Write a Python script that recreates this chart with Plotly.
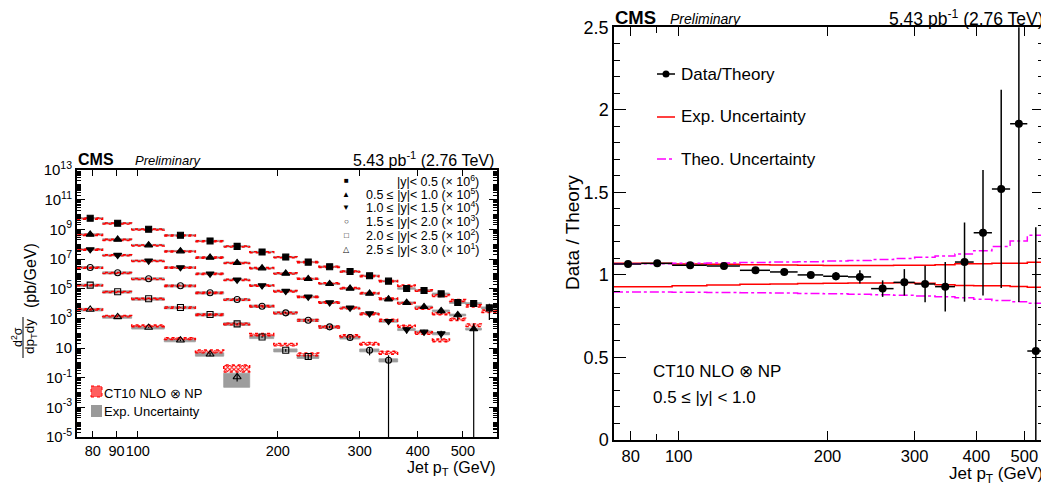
import numpy as np
import plotly.graph_objects as go

W, H = 1049, 487
OX, OY = 8, 8          # page body margin offset of the plot div
FONT = "Liberation Sans, Arial, Helvetica, sans-serif"


def px(x):
    return (x - OX) / W


def py(y):
    return 1 - (y - OY) / H


# ---------------- data ----------------
bin_edges = [74, 84, 97, 114, 133, 153, 174, 196, 220, 245, 272, 300, 330,
             362, 395, 430, 468, 507, 548, 592]

series_labels = [
    "|y|< 0.5 (× 10<sup>6</sup>)",
    "0.5 ≤ |y|< 1.0 (× 10<sup>5</sup>)",
    "1.0 ≤ |y|< 1.5 (× 10<sup>4</sup>)",
    "1.5 ≤ |y|< 2.0 (× 10<sup>3</sup>)",
    "2.0 ≤ |y|< 2.5 (× 10<sup>2</sup>)",
    "2.5 ≤ |y|< 3.0 (× 10<sup>1</sup>)",
]
scale_factors = [1e6, 1e5, 1e4, 1e3, 1e2, 1e1]

# measured cross sections (pb/GeV), unscaled
data_y0 = [5600, 2600, 1020, 400, 165, 71.5, 29.8, 13.5, 6.2, 3.0, 1.45, 0.737,
           0.322, 0.103, 0.0754, 0.0449, 0.0117, 0.0100, 0.0051]
data_y1 = [4540, 2090, 866, 341, 127, 55.6, 24.3, 10.6, 4.62, 2.13, 1.03, 0.473,
           0.196, 0.113, 0.060, 0.032, 0.0169, 0.0019]
data_y2 = [4420, 1830, 759, 269, 101, 39.6, 16.4, 6.80, 2.82, 1.17, 0.51, 0.211,
           0.0642, 0.0176, 0.0122, 0.0094]
data_y3 = [2690, 1170, 462, 156, 52.5, 18.6, 6.6, 2.34, 0.75, 0.266, 0.0507,
           0.00708, 0.0015]
data_y4 = [1730, 613, 207, 53.7, 18.1, 4.24, 0.55, 0.0708, 0.0265]
data_y5 = [394, 126, 24.0, 3.35, 0.38, 0.0112]

# relative statistical errors of the data
stat_y0 = [0.01, 0.01, 0.01, 0.01, 0.01, 0.01, 0.01, 0.015, 0.02, 0.02, 0.03,
           0.04, 0.05, 0.08, 0.10, 0.15, 0.30, 0.30, 0.85]
stat_y1 = [0.01, 0.01, 0.01, 0.01, 0.012, 0.015, 0.018, 0.025, 0.04, 0.055,
           0.084, 0.116, 0.16, 0.22, 0.30, 0.39, 0.56, 1.39]
stat_y2 = [0.01, 0.01, 0.01, 0.01, 0.015, 0.02, 0.03, 0.04, 0.06, 0.08, 0.12,
           0.18, 0.30, 0.45, 0.40, 0.55]
stat_y3 = [0.01, 0.01, 0.015, 0.02, 0.03, 0.04, 0.06, 0.08, 0.12, 0.18, 0.25,
           0.55, 1.2]
stat_y4 = [0.01, 0.015, 0.02, 0.03, 0.05, 0.08, 0.12, 0.20, 0.40]
stat_y5 = [0.02, 0.04, 0.06, 0.12, 0.25, 0.5]

# relative experimental uncertainty (grey band)
exp_y0 = [0.10, 0.10, 0.10, 0.10, 0.10, 0.10, 0.10, 0.10, 0.10, 0.11, 0.11,
          0.12, 0.12, 0.12, 0.13, 0.13, 0.14, 0.14, 0.15]
exp_y1 = [0.11, 0.11, 0.11, 0.11, 0.11, 0.11, 0.11, 0.11, 0.11, 0.11, 0.12,
          0.12, 0.12, 0.13, 0.13, 0.14, 0.14, 0.15]
exp_y2 = [0.12, 0.12, 0.12, 0.12, 0.12, 0.12, 0.12, 0.13, 0.13, 0.13, 0.14,
          0.14, 0.15, 0.15, 0.16, 0.17]
exp_y3 = [0.16, 0.16, 0.16, 0.16, 0.17, 0.17, 0.18, 0.18, 0.19, 0.20, 0.21,
          0.22, 0.24]
exp_y4 = [0.18, 0.18, 0.19, 0.19, 0.20, 0.21, 0.22, 0.23, 0.25]
exp_y5 = [0.20, 0.20, 0.21, 0.22, 0.26, 0.80]

# CT10 NLO x NP theory (pb/GeV), unscaled
theo_y0 = [5300, 2450, 965, 380, 158, 69.5, 28.8, 13.3, 6.15, 2.99, 1.445,
           0.700, 0.322, 0.156, 0.0754, 0.0347, 0.0159, 0.00696, 0.00304]
theo_y1 = [4260, 1950, 819, 324, 124, 54.6, 24.3, 10.7, 4.68, 2.32, 1.08, 0.50,
           0.211, 0.105, 0.048, 0.021, 0.0088, 0.0035]
theo_y2 = [4300, 1780, 740, 262, 99, 38.8, 16.1, 6.7, 2.78, 1.16, 0.50, 0.205,
           0.075, 0.0295, 0.0105, 0.00335]
theo_y3 = [2600, 1140, 450, 154, 52, 18.4, 6.5, 2.3, 0.75, 0.262, 0.0657, 0.020,
           0.0049]
theo_y4 = [1700, 600, 205, 53, 17.5, 4.2, 0.81, 0.171, 0.038]
theo_y5 = [400, 140, 31.1, 4.34, 0.606, 0.0479]

# relative theory uncertainty (red hatched band)
thu_y0 = [0.09, 0.09, 0.09, 0.09, 0.09, 0.09, 0.09, 0.09, 0.10, 0.10, 0.10,
          0.11, 0.11, 0.12, 0.13, 0.14, 0.16, 0.18, 0.20]
thu_y1 = [0.09, 0.09, 0.09, 0.09, 0.09, 0.09, 0.09, 0.10, 0.10, 0.10, 0.11,
          0.11, 0.12, 0.13, 0.14, 0.16, 0.18, 0.21]
thu_y2 = [0.09, 0.09, 0.09, 0.09, 0.10, 0.10, 0.10, 0.11, 0.11, 0.12, 0.13,
          0.14, 0.15, 0.17, 0.19, 0.21]
thu_y3 = [0.09, 0.09, 0.09, 0.10, 0.10, 0.11, 0.12, 0.13, 0.14, 0.16, 0.18,
          0.20, 0.23]
thu_y4 = [0.09, 0.09, 0.10, 0.11, 0.12, 0.14, 0.17, 0.19, 0.22]
thu_y5 = [0.10, 0.11, 0.13, 0.16, 0.22, 0.50]

all_data = [data_y0, data_y1, data_y2, data_y3, data_y4, data_y5]
all_stat = [stat_y0, stat_y1, stat_y2, stat_y3, stat_y4, stat_y5]
all_exp = [exp_y0, exp_y1, exp_y2, exp_y3, exp_y4, exp_y5]
all_theo = [theo_y0, theo_y1, theo_y2, theo_y3, theo_y4, theo_y5]
all_thu = [thu_y0, thu_y1, thu_y2, thu_y3, thu_y4, thu_y5]

marker_symbols = ["square", "triangle-up", "triangle-down", "circle-open",
                  "square-open", "triangle-up-open"]
marker_sizes = [6, 7, 7, 6, 6, 7]
legend_glyphs = ["■", "▲", "▼", "○", "□", "△"]

# ratio panel: 0.5 <= |y| < 1.0
ratio = [1.066, 1.070, 1.058, 1.054, 1.028, 1.018, 1.000, 0.992, 0.988, 0.917,
         0.955, 0.945, 0.929, 1.078, 1.256, 1.521, 1.916, 0.539]
ratio_err = [0.010, 0.010, 0.010, 0.010, 0.012, 0.015, 0.018, 0.025, 0.04, 0.05,
             0.08, 0.11, 0.15, 0.24, 0.38, 0.60, 1.08, 0.75]
exp_up = [1.071, 1.071, 1.066, 1.064, 1.062, 1.060, 1.058, 1.057, 1.057, 1.057,
          1.058, 1.059, 1.062, 1.068, 1.068, 1.070, 1.071, 1.076]
exp_dn = [0.929, 0.929, 0.935, 0.939, 0.943, 0.945, 0.948, 0.950, 0.951, 0.951,
          0.952, 0.950, 0.940, 0.936, 0.935, 0.934, 0.930, 0.926]
theo_up = [1.067, 1.068, 1.070, 1.072, 1.075, 1.078, 1.080, 1.084, 1.088, 1.094,
           1.100, 1.107, 1.115, 1.127, 1.147, 1.172, 1.205, 1.240]
theo_dn = [0.897, 0.896, 0.895, 0.894, 0.892, 0.890, 0.888, 0.886, 0.883, 0.880,
           0.877, 0.873, 0.868, 0.862, 0.852, 0.845, 0.838, 0.828]

# ---------------- figure ----------------
fig = go.Figure()

lo_edges = bin_edges[:-1]
hi_edges = bin_edges[1:]
centers = [(a + b) / 2 for a, b in zip(lo_edges, hi_edges)]


def band(values, rel, scale):
    xs, ys = [], []
    for i in range(len(values)):
        a, b = lo_edges[i], hi_edges[i]
        v = values[i] * scale
        lo = v * max(1 - rel[i], 0.02)
        hi = v * (1 + rel[i])
        xs += [a, b, b, a, a, None]
        ys += [lo, lo, hi, hi, lo, None]
    return xs, ys


# grey experimental bands
for k in range(6):
    xs, ys = band(all_data[k], all_exp[k], scale_factors[k])
    fig.add_trace(go.Scatter(x=xs, y=ys, mode="lines", fill="toself",
                             fillcolor="#9d9d9d",
                             line=dict(color="#9d9d9d", width=0.8),
                             hoverinfo="skip", showlegend=False,
                             xaxis="x", yaxis="y"))

# red hatched theory bands
for k in range(6):
    xs, ys = band(all_theo[k], all_thu[k], scale_factors[k])
    fig.add_trace(go.Scatter(x=xs, y=ys, mode="lines", fill="toself",
                             fillcolor="rgba(255,0,0,0.4)",
                             fillpattern=dict(shape="x", fgcolor="red",
                                              bgcolor="rgba(255,255,255,0.15)",
                                              size=3, solidity=0.55),
                             line=dict(color="red", width=1.4, dash="dot"),
                             hoverinfo="skip", showlegend=False,
                             xaxis="x", yaxis="y"))

# data points
for k in range(6):
    n = len(all_data[k])
    yv = [d * scale_factors[k] for d in all_data[k]]
    ev = [d * s for d, s in zip(yv, all_stat[k])]
    fig.add_trace(go.Scatter(
        x=centers[:n], y=yv, mode="markers",
        marker=dict(symbol=marker_symbols[k], size=marker_sizes[k],
                    color="black", line=dict(color="black", width=1.1)),
        error_y=dict(type="data", array=ev, color="black", thickness=1.2,
                     width=0),
        name=series_labels[k], showlegend=False, xaxis="x", yaxis="y"))

# ratio panel
nr = len(ratio)
r_edges = bin_edges[:nr + 1]
fig.add_trace(go.Scatter(x=r_edges, y=exp_up + [exp_up[-1]], mode="lines",
                         line=dict(color="red", width=1.5, shape="hv"),
                         showlegend=False, xaxis="x2", yaxis="y2"))
fig.add_trace(go.Scatter(x=r_edges, y=exp_dn + [exp_dn[-1]], mode="lines",
                         line=dict(color="red", width=1.5, shape="hv"),
                         showlegend=False, xaxis="x2", yaxis="y2"))
fig.add_trace(go.Scatter(x=r_edges, y=theo_up + [theo_up[-1]], mode="lines",
                         line=dict(color="#ff00ff", width=1.5, shape="hv",
                                   dash="dashdot"),
                         showlegend=False, xaxis="x2", yaxis="y2"))
fig.add_trace(go.Scatter(x=r_edges, y=theo_dn + [theo_dn[-1]], mode="lines",
                         line=dict(color="#ff00ff", width=1.5, shape="hv",
                                   dash="dashdot"),
                         showlegend=False, xaxis="x2", yaxis="y2"))
rc = centers[:nr]
fig.add_trace(go.Scatter(
    x=rc, y=ratio, mode="markers",
    marker=dict(symbol="circle", size=8, color="black"),
    error_y=dict(type="data", array=ratio_err, color="black", thickness=1.5,
                 width=0),
    error_x=dict(type="data", symmetric=False,
                 array=[b - c for b, c in zip(hi_edges[:nr], rc)],
                 arrayminus=[c - a for a, c in zip(lo_edges[:nr], rc)],
                 color="black", thickness=1.5, width=0),
    name="Data/Theory", showlegend=False, xaxis="x2", yaxis="y2"))

# ---------------- axes ----------------
label_exps = [-5, -3, -1, 1, 3, 5, 7, 9, 11, 13]
ytick_vals = [10.0 ** e for e in label_exps]
ytick_text = ["10" if e == 1 else "10<sup>%d</sup>" % e for e in label_exps]
yminor_vals = [m * 10.0 ** e for e in range(-5, 13) for m in range(1, 10)
               if not (m == 1 and e in label_exps)]

xt_left = [80, 90, 100, 200, 300, 400, 500]
xt_left_text = ["80", "90", "100", "200", "300", "400", "500"]
xt_right = [80, 100, 200, 300, 400, 500]
xt_right_text = ["80", "100", "200", "300", "400", "500"]

common = dict(showline=True, linecolor="black", mirror="allticks",
              ticks="inside", tickcolor="black", showgrid=False,
              zeroline=False, automargin=False, tickangle=0)

fig.update_layout(
    template="none",
    width=W, height=H, margin=dict(l=0, r=0, t=0, b=0, pad=0),
    paper_bgcolor="white", plot_bgcolor="white", showlegend=False,
    font=dict(family=FONT, color="black"),
    xaxis=dict(type="log", range=[np.log10(74), np.log10(592)],
               domain=[px(77), px(497)], anchor="y", linewidth=2,
               tickvals=xt_left, ticktext=xt_left_text, ticklen=6,
               tickfont=dict(size=14.5, family=FONT), **common),
    yaxis=dict(type="log", range=[-5, 13], domain=[py(437), py(170)],
               anchor="x", linewidth=2, tickvals=ytick_vals,
               ticktext=ytick_text, ticklen=8,
               tickfont=dict(size=15, family=FONT),
               minor=dict(tickmode="array", tickvals=yminor_vals, ticklen=4,
                          ticks="inside", tickcolor="black", showgrid=False),
               **common),
    xaxis2=dict(type="log", range=[np.log10(74), np.log10(548)],
                domain=[px(614), px(1044)], anchor="y2", linewidth=1.5,
                tickvals=xt_right, ticktext=xt_right_text, ticklen=9,
                minor=dict(tickmode="array", tickvals=[90], ticklen=6,
                           ticks="inside", tickcolor="black", showgrid=False),
                tickfont=dict(size=16.5, family=FONT), **common),
    yaxis2=dict(range=[0, 2.5], domain=[py(440), py(27.3)], anchor="x2",
                linewidth=1.5, tick0=0, dtick=0.5, ticklen=12,
                tickfont=dict(size=18, family=FONT),
                minor=dict(dtick=0.1, ticklen=6, ticks="inside",
                           tickcolor="black", showgrid=False),
                **common),
)

# ---------------- texts ----------------
ann = []


def text(t, x, y, size, xanchor="left", angle=0):
    ann.append(dict(text=t, x=px(x), y=py(y), xref="paper", yref="paper",
                    xanchor=xanchor, yanchor="middle", showarrow=False,
                    borderpad=0, textangle=angle,
                    font=dict(size=size, family=FONT, color="black")))


# left panel header
text("<b>CMS</b>", 77, 160, 16)
text("<i>Preliminary</i>", 134, 161, 13)
text("5.43 pb<sup>-1</sup> (2.76 TeV)", 495, 159, 16, "right")
# right panel header
text("<b>CMS</b>", 614, 18, 18.5)
text("<i>Preliminary</i>", 669, 19, 14)
text("5.43 pb<sup>-1</sup> (2.76 TeV)", 1045, 18, 17.5, "right")

# axis titles
text("Jet p<sub>T</sub> (GeV)", 497, 468, 16, "right")
text("Jet p<sub>T</sub> (GeV)", 1044, 475, 17, "right")
text("Data / Theory", 572, 233, 19, "center", -90)
text("d<sup>2</sup>σ", 17, 337, 12.5, "center", -90)
text("dp<sub>T</sub>dy", 30, 337, 13.5, "center", -90)
text("(pb/GeV)", 30, 276, 16, "center", -90)

# left legend (series)
leg_rows = [180.7, 194, 207.3, 221, 235, 249.3]
for k in range(6):
    text(series_labels[k], 480, leg_rows[k], 12.5, "right")
    text(legend_glyphs[k], 346, leg_rows[k], 8, "center")

# left legend (bands)
text("CT10 NLO ⊗ NP", 103, 393, 13)
text("Exp. Uncertainty", 103, 411, 13)

# right legend
text("Data/Theory", 680, 74, 17)
text("Exp. Uncertainty", 680, 117, 17)
text("Theo. Uncertainty", 680, 159, 17)
text("CT10 NLO ⊗ NP", 652, 371, 17)
text("0.5 ≤ |y| < 1.0", 652, 397, 17)

fig.update_layout(annotations=ann)

shapes = [
    # fraction bar of the y title
    dict(type="line", xref="paper", yref="paper", x0=px(23), x1=px(23),
         y0=py(317), y1=py(358), line=dict(color="black", width=1)),
    # band legend keys
    dict(type="rect", xref="paper", yref="paper", x0=px(91), x1=px(102),
         y0=py(397), y1=py(386), fillcolor="rgba(255,40,40,0.75)",
         line=dict(color="red", width=1, dash="dot")),
    dict(type="rect", xref="paper", yref="paper", x0=px(91), x1=px(102),
         y0=py(417), y1=py(405), fillcolor="#9a9a9a",
         line=dict(color="#9a9a9a", width=0)),
    # right legend keys
    dict(type="line", xref="paper", yref="paper", x0=px(657), x1=px(675),
         y0=py(74), y1=py(74), line=dict(color="black", width=1.5)),
    dict(type="circle", xref="paper", yref="paper", x0=px(662.5), x1=px(669.5),
         y0=py(77.5), y1=py(70.5), fillcolor="black",
         line=dict(color="black", width=0)),
    dict(type="line", xref="paper", yref="paper", x0=px(657), x1=px(675),
         y0=py(117), y1=py(117), line=dict(color="red", width=1.5)),
    dict(type="line", xref="paper", yref="paper", x0=px(657), x1=px(675),
         y0=py(159), y1=py(159),
         line=dict(color="#ff00ff", width=1.5, dash="dashdot")),
]
fig.update_layout(shapes=shapes)

fig.write_html("out.html")
